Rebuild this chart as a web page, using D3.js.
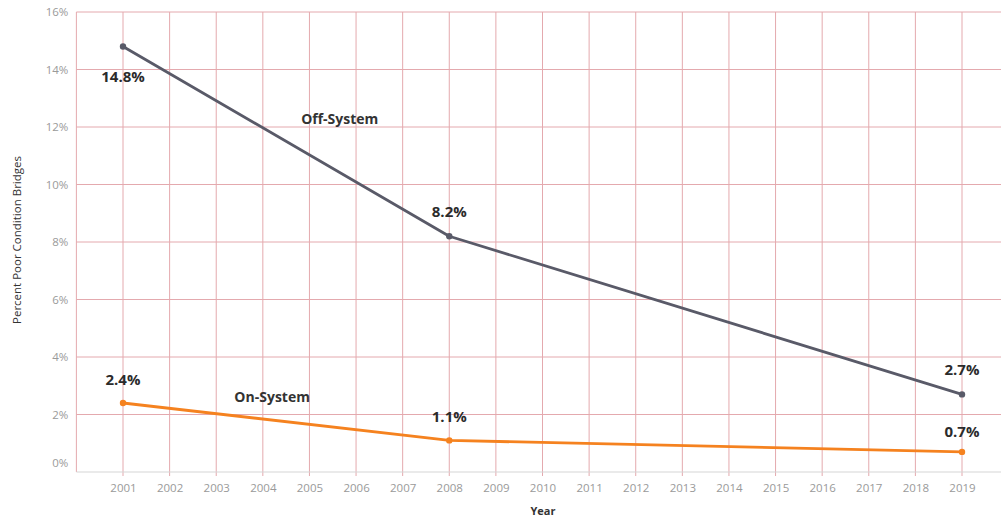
<!DOCTYPE html>
<html><head><meta charset="utf-8">
<script src="https://cdn.jsdelivr.net/npm/d3@7"></script>
<style>body{margin:0;background:#fff;}svg{display:block;font-family:"Open Sans",sans-serif;}</style>
</head><body><svg id="c" width="1001" height="517"></svg>
<script>
const years = d3.range(2001, 2020);
const yTicks = [0, 2, 4, 6, 8, 10, 12, 14, 16];
const offYears = [2001, 2008, 2019];
const offValues = [14.8, 8.2, 2.7];
const onYears = [2001, 2008, 2019];
const onValues = [2.4, 1.1, 0.7];
const seriesNames = ["Off-System", "On-System"];

const svg = d3.select("#c");
const x = d3.scaleLinear().domain([2001, 2019]).range([123, 962]);
const y = d3.scaleLinear().domain([0, 16]).range([472, 12]);
const left = x(2000), right = 1001;
const grid = "#e4a9ae";

// horizontal gridlines
svg.append("g").selectAll("line").data(yTicks.filter(d => d > 0)).join("line")
  .attr("x1", left).attr("x2", right).attr("y1", d => y(d)).attr("y2", d => y(d))
  .attr("stroke", grid).attr("stroke-width", 1);
// vertical gridlines
svg.append("g").selectAll("line").data([2000].concat(years)).join("line")
  .attr("x1", d => x(d)).attr("x2", d => x(d)).attr("y1", y(16)).attr("y2", d => d === 2000 ? y(0) : y(0) + 4)
  .attr("stroke", grid).attr("stroke-width", 1);
// bottom axis line
svg.append("line").attr("x1", left).attr("x2", right).attr("y1", y(0)).attr("y2", y(0))
  .attr("stroke", "#d6d6d6").attr("stroke-width", 1.2);

// y tick labels
const yAxis = d3.axisLeft(y).tickValues(yTicks).tickFormat(d => d + "%").tickSize(0).tickPadding(7);
const ga = svg.append("g").attr("transform", `translate(${left - 1},0)`).call(yAxis);
ga.select(".domain").remove();
ga.selectAll("text").attr("fill", "#9a9a9a").attr("font-size", 11.5).attr("font-family", "Open Sans")
  .attr("dy", (d) => d === 0 ? "-0.45em" : "0.32em");

// x tick labels
const xAxis = d3.axisBottom(x).tickValues(years).tickFormat(d3.format("d")).tickSize(0).tickPadding(12);
const gx = svg.append("g").attr("transform", `translate(0,${y(0)})`).call(xAxis);
gx.select(".domain").remove();
gx.selectAll("text").attr("fill", "#9a9a9a").attr("font-size", 11.5).attr("font-family", "Open Sans");

// axis titles
svg.append("text").attr("x", 543).attr("y", 515).attr("text-anchor", "middle")
  .attr("font-size", 11).attr("font-weight", "bold").attr("fill", "#333").text("Year");
svg.append("text").attr("transform", "translate(21,240) rotate(-90)").attr("text-anchor", "middle")
  .attr("font-size", 11.5).attr("fill", "#333").text("Percent Poor Condition Bridges");

const line = d3.line().x(d => x(d[0])).y(d => y(d[1]));
const series = [
  { name: seriesNames[0], color: "#595a68", pts: offYears.map((yr, i) => [yr, offValues[i]]), lblDy: [30, -24, -24], nameX: 2005.65, nameY: 12.27 },
  { name: seriesNames[1], color: "#f5821f", pts: onYears.map((yr, i) => [yr, onValues[i]]), lblDy: [-23, -23, -20], nameX: 2004.2, nameY: 2.62 }
];
series.forEach(s => {
  svg.append("path").datum(s.pts).attr("d", line).attr("fill", "none")
    .attr("stroke", s.color).attr("stroke-width", 2.8).attr("stroke-linejoin", "round");
  svg.append("g").selectAll("circle").data(s.pts).join("circle")
    .attr("cx", d => x(d[0])).attr("cy", d => y(d[1])).attr("r", 3.2).attr("fill", s.color);
  svg.append("g").selectAll("text").data(s.pts).join("text")
    .attr("x", d => x(d[0])).attr("y", (d, i) => y(d[1]) + s.lblDy[i] + 5)
    .attr("text-anchor", "middle").attr("font-size", 15).attr("font-weight", "bold").attr("fill", "#2b2b2b")
    .text(d => d[1].toFixed(1) + "%");
  svg.append("text").attr("x", x(s.nameX)).attr("y", y(s.nameY) + 5).attr("text-anchor", "middle")
    .attr("font-size", 14).attr("font-weight", "bold").attr("fill", "#333").text(s.name);
});
</script></body></html>
